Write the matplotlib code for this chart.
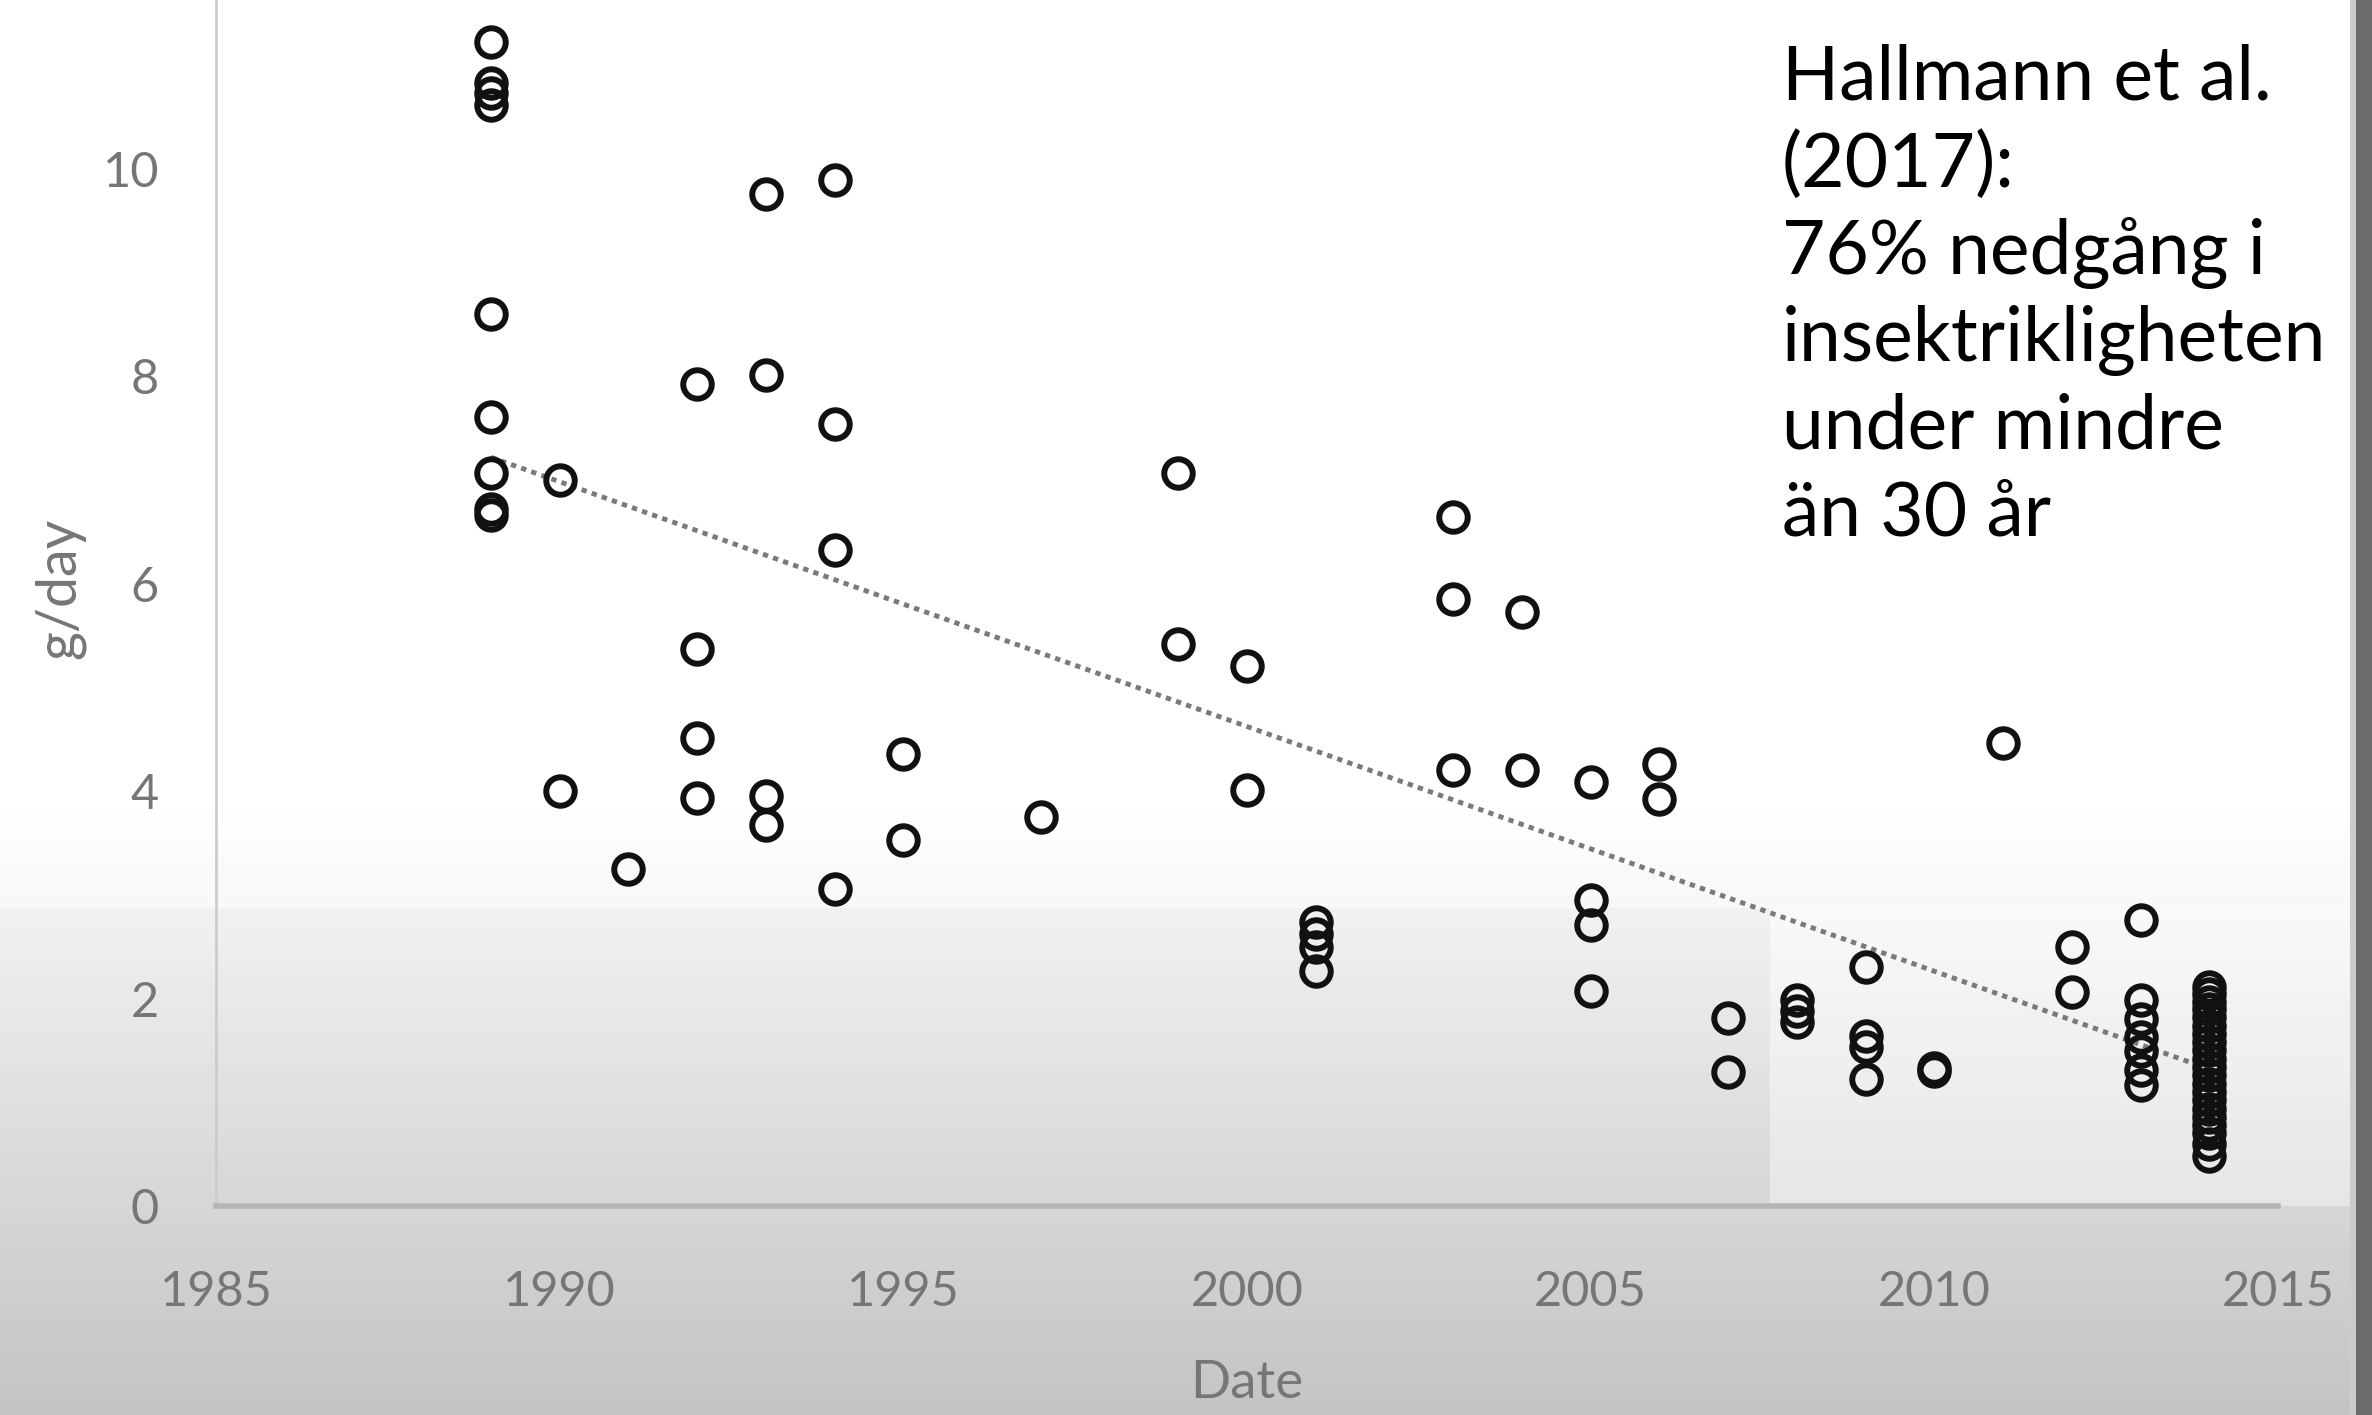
import numpy as np
import matplotlib
matplotlib.use('Agg')
import matplotlib.pyplot as plt

plt.rcParams['font.family'] = ['Lato', 'DejaVu Sans']

# data (year, g/day)
yr_1989 = [11.22, 10.83, 10.73, 10.62, 8.60, 7.61, 7.07, 6.72, 6.66]
yr_1990 = [7.00, 4.00]
yr_1991 = [3.25]
yr_1992 = [7.93, 5.37, 4.51, 3.93]
yr_1993 = [9.76, 8.01, 3.95, 3.67]
yr_1994 = [9.89, 7.54, 6.33, 3.06]
yr_1995 = [4.36, 3.53]
yr_1997 = [3.75]
yr_1999 = [7.07, 5.42]
yr_2000 = [5.21, 4.01]
yr_2001 = [2.74, 2.62, 2.50, 2.27]
yr_2003 = [6.64, 5.85, 4.20]
yr_2004 = [5.73, 4.20]
yr_2005 = [4.09, 2.95, 2.71, 2.07]
yr_2006 = [4.26, 3.92]
yr_2007 = [1.81, 1.29]
yr_2008 = [1.99, 1.88, 1.77]
yr_2009 = [2.30, 1.64, 1.53, 1.22]
yr_2010 = [1.33, 1.30]
yr_2011 = [4.46]
yr_2012 = [2.50, 2.06]
yr_2013 = [2.76, 1.99, 1.80, 1.63, 1.49, 1.31, 1.17]
yr_2014 = [2.11, 2.04, 1.97, 1.90, 1.82, 1.74, 1.66, 1.58, 1.50, 1.42, 1.34,
           1.26, 1.18, 1.10, 1.02, 0.94, 0.86, 0.78, 0.70, 0.60, 0.48]

years = [1989, 1990, 1991, 1992, 1993, 1994, 1995, 1997, 1999, 2000, 2001,
         2003, 2004, 2005, 2006, 2007, 2008, 2009, 2010, 2011, 2012, 2013, 2014]
values = [yr_1989, yr_1990, yr_1991, yr_1992, yr_1993, yr_1994, yr_1995,
          yr_1997, yr_1999, yr_2000, yr_2001, yr_2003, yr_2004, yr_2005,
          yr_2006, yr_2007, yr_2008, yr_2009, yr_2010, yr_2011, yr_2012,
          yr_2013, yr_2014]

trend_x = [1989, 2014]
trend_y = [7.22, 1.32]

xticks = [1985, 1990, 1995, 2000, 2005, 2010, 2015]
yticks = [0, 2, 4, 6, 8, 10]

note_lines = ['Hallmann et al.', '(2017):', '76% nedgång i',
              'insektrikligheten', 'under mindre', 'än 30 år']

W, H = 2372, 1415
fig = plt.figure(figsize=(W / 100, H / 100), dpi=100)

# background: white top, grey shading towards the bottom (video overlay)
rows = np.arange(H, dtype=np.float32)
g = np.ones(H, dtype=np.float32)
m1 = (rows >= 800) & (rows < 908)
g[m1] = 1.0 - (rows[m1] - 800) / 108 * 0.03
m2 = rows >= 908
g[m2] = 0.945 - (rows[m2] - 908) / (H - 908) * 0.18
bgimg = np.repeat(g[:, None], W, axis=1)
# lighter patch at lower right
bgimg[908:1206, 1770:2350] = np.linspace(0.975, 0.90, 1206 - 908)[:, None]
# dark strip at right border
bgimg[:, 2350:2356] = 0.80
bgimg[:, 2356:] = 0.42

bg = fig.add_axes([0, 0, 1, 1], zorder=0)
bg.imshow(bgimg, cmap='gray', vmin=0, vmax=1, aspect='auto',
          interpolation='bilinear')
bg.axis('off')

ax = fig.add_axes([216 / W, 1 - 1206 / H, 2062 / W, 1206 / H], zorder=1)
ax.patch.set_alpha(0)

for yr, vals in zip(years, values):
    ax.plot([yr] * len(vals), vals, 'o', mfc='none', mec='#111111',
            mew=4.3, ms=20.5, zorder=3)

ax.plot(trend_x, trend_y, color='#7a7a7a', lw=3.5, linestyle=(0, (1.1, 1.1)),
        zorder=2)

ax.set_xlim(1985, 2015)
ax.set_ylim(0, 1206 / 103.7)
ax.set_xticks(xticks)
ax.set_yticks(yticks)
ax.tick_params(axis='both', length=0, labelsize=35, labelcolor='#767676')
ax.tick_params(axis='y', pad=41)
ax.tick_params(axis='x', pad=46)

for s in ['top', 'right']:
    ax.spines[s].set_visible(False)
ax.spines['left'].set_color('#cccccc')
ax.spines['left'].set_linewidth(2)
ax.spines['bottom'].set_color('#b5b5b5')
ax.spines['bottom'].set_linewidth(4)

ax.set_ylabel('g/day', fontsize=40, color='#767676', va='center')
ax.yaxis.set_label_coords(-0.076, 0.512)
ax.set_xlabel('Date', fontsize=38, color='#767676', va='center')
ax.xaxis.set_label_coords(0.5, -0.147)

for i, line in enumerate(note_lines):
    fig.text(1782 / W, 1 - (99 + 87.4 * i) / H, line, fontsize=54,
             color='black', va='baseline', ha='left', zorder=5)

fig.savefig('out.png', dpi=100)
